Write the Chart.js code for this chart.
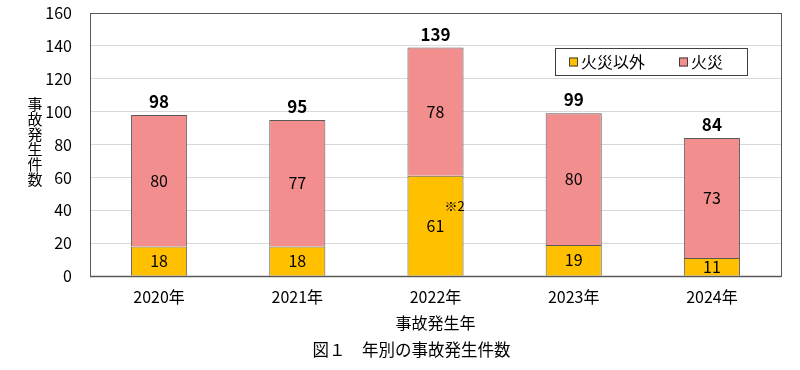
<!DOCTYPE html>
<html><head><meta charset="utf-8">
<script src="https://cdn.jsdelivr.net/npm/chart.js@4"></script>
<style>html,body{margin:0;padding:0;background:#fff}</style>
</head><body>
<canvas id="c" width="800" height="370" style="width:800px;height:370px;display:block"></canvas>
<script>
const categories = ['2020年','2021年','2022年','2023年','2024年'];
const nonFire = [18, 18, 61, 19, 11];
const fire = [80, 77, 78, 80, 73];
const totals = [98, 95, 139, 99, 84];
const notes = ['', '', '※2', '', ''];
const seriesNames = ['火災以外', '火災'];
const seriesColors = ['#FFC000', '#F28E8E'];
const yMin = 0, yMax = 160, yStep = 20;
const yTitle = '事故発生件数';
const xTitle = '事故発生年';
const chartTitle = '図１　年別の事故発生件数';

const FONT = '"Noto Sans CJK JP", "Noto Sans", sans-serif';

const framePlugin = {
  id: 'frame',
  beforeDatasetsDraw(chart) {
    const a = chart.chartArea, ctx = chart.ctx;
    ctx.save();
    ctx.strokeStyle = '#595959'; ctx.lineWidth = 1;
    ctx.strokeRect(Math.round(a.left) + 0.5, Math.round(a.top) + 0.5, Math.round(a.right - a.left), Math.round(a.bottom - a.top));
    ctx.restore();
  },
  afterDatasetsDraw(chart) {
    const a = chart.chartArea, ctx = chart.ctx;
    ctx.save();
    ctx.strokeStyle = '#595959'; ctx.lineWidth = 1.5;
    ctx.beginPath(); ctx.moveTo(a.left, Math.round(a.bottom) + 0.5); ctx.lineTo(a.right, Math.round(a.bottom) + 0.5); ctx.stroke();
    ctx.restore();
  }
};

const labelsPlugin = {
  id: 'labels',
  afterDatasetsDraw(chart) {
    const ctx = chart.ctx;
    ctx.save();
    ctx.fillStyle = '#000';
    ctx.textAlign = 'center';
    ctx.textBaseline = 'middle';
    chart.data.datasets.forEach((ds, i) => {
      const meta = chart.getDatasetMeta(i);
      meta.data.forEach((bar, j) => {
        const p = bar.getProps(['x', 'y', 'base'], true);
        const cy = (p.y + p.base) / 2;
        ctx.font = '16px ' + FONT;
        ctx.fillText(String(ds.data[j]), p.x, cy);
        if (i === 0 && notes[j]) {
          ctx.font = '13px ' + FONT;
          ctx.fillText(notes[j], p.x + 19, cy - 20);
        }
      });
    });
    const topMeta = chart.getDatasetMeta(chart.data.datasets.length - 1);
    ctx.font = 'bold 17px ' + FONT;
    ctx.textBaseline = 'alphabetic';
    topMeta.data.forEach((bar, j) => {
      ctx.fillText(String(totals[j]), bar.x, bar.y - 7);
    });
    ctx.restore();
  }
};

const legendPlugin = {
  id: 'boxLegend',
  afterDraw(chart) {
    const ctx = chart.ctx;
    const bx = 555, by = 48, bw = 192, bh = 27;
    ctx.save();
    ctx.fillStyle = '#fff';
    ctx.fillRect(bx, by, bw, bh);
    ctx.strokeStyle = '#404040'; ctx.lineWidth = 1;
    ctx.strokeRect(bx + 0.5, by + 0.5, bw, bh);
    ctx.font = '16px ' + FONT;
    ctx.textBaseline = 'middle';
    ctx.textAlign = 'left';
    let x = 569;
    const cy = by + bh / 2 + 0.5;
    chart.data.datasets.forEach((ds, i) => {
      ctx.fillStyle = ds.backgroundColor;
      ctx.fillRect(x, cy - 4.5, 9, 9);
      ctx.strokeStyle = '#404040';
      ctx.strokeRect(x + 0.5, cy - 4.5 + 0.5, 8, 8);
      ctx.fillStyle = '#000';
      ctx.fillText(ds.label, x + 12, cy);
      x += 12 + ctx.measureText(ds.label).width + 34;
    });
    ctx.restore();
  }
};

const yTitlePlugin = {
  id: 'yTitleVertical',
  afterDraw(chart) {
    const ctx = chart.ctx;
    ctx.save();
    ctx.fillStyle = '#000';
    ctx.font = '15px ' + FONT;
    ctx.textAlign = 'center';
    ctx.textBaseline = 'middle';
    const chars = Array.from(yTitle);
    const step = 15;
    const start = 104;
    chars.forEach((ch, k) => ctx.fillText(ch, 35, start + k * step));
    ctx.restore();
  }
};

new Chart(document.getElementById('c'), {
  type: 'bar',
  data: {
    labels: categories,
    datasets: [
      { label: seriesNames[0], data: nonFire, backgroundColor: seriesColors[0], borderColor: '#595959', borderWidth: 1 },
      { label: seriesNames[1], data: fire, backgroundColor: seriesColors[1], borderColor: '#595959', borderWidth: 1 }
    ]
  },
  options: {
    responsive: false,
    animation: false,
    devicePixelRatio: 1,
    layout: { padding: { left: 42, right: 19, top: 13, bottom: 4 } },
    datasets: { bar: { categoryPercentage: 1, barPercentage: 0.406 } },
    plugins: {
      legend: { display: false },
      tooltip: { enabled: false },
      title: {
        display: true, position: 'bottom', text: chartTitle, color: '#000',
        font: { family: FONT, size: 16.5, weight: 'normal' },
        padding: { top: 6, bottom: 6 }
      }
    },
    scales: {
      x: {
        stacked: true,
        grid: { display: false, drawTicks: false },
        border: { display: false },
        ticks: { color: '#000', font: { family: FONT, size: 16 }, padding: 11 },
        title: { display: true, text: xTitle, color: '#000', font: { family: FONT, size: 16 }, padding: { top: 2, bottom: 2 } },
        afterFit(s) { s.height = 58; }
      },
      y: {
        stacked: true,
        min: yMin, max: yMax,
        grid: { color: '#d9d9d9', drawTicks: true, tickLength: 16, tickColor: 'rgba(0,0,0,0)' },
        border: { display: false },
        ticks: { stepSize: yStep, color: '#000', font: { family: FONT, size: 16 }, padding: 2 },
        afterFit(s) { s.width = 48; }
      }
    }
  },
  plugins: [framePlugin, labelsPlugin, legendPlugin, yTitlePlugin]
});
</script>
</body></html>
